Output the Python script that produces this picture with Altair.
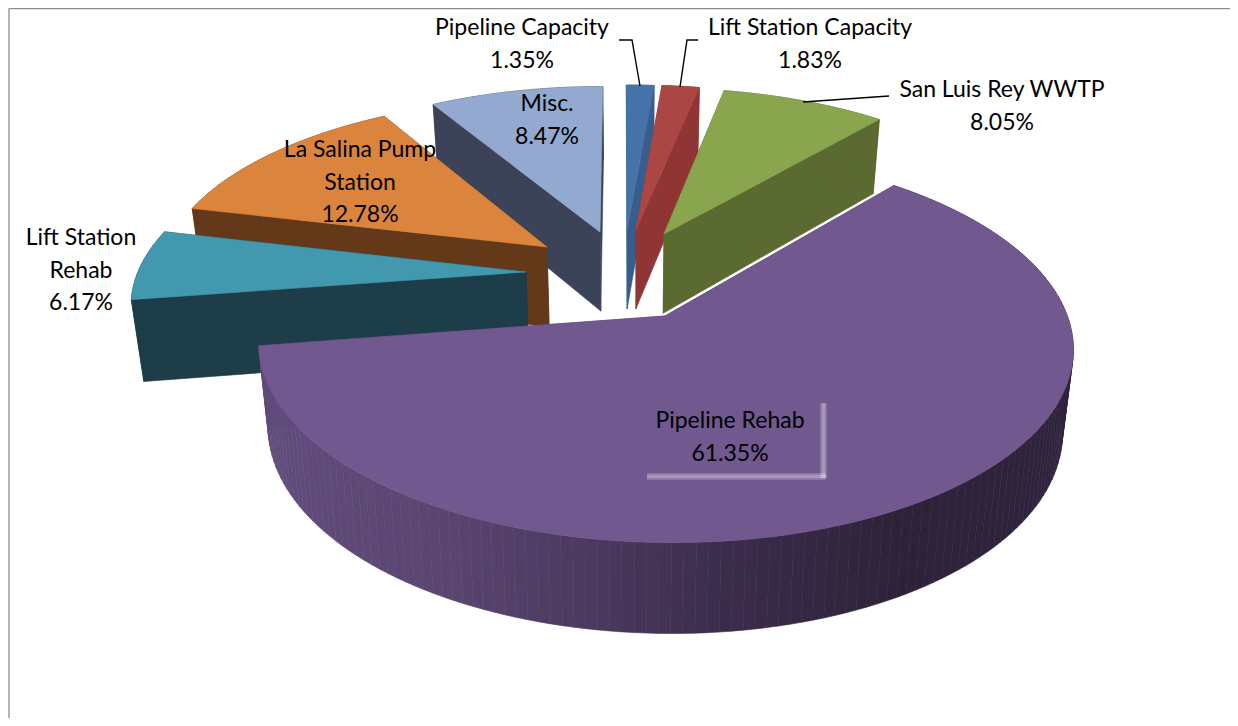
import math
import altair as alt

# ---- chart values
categories = ["Pipeline Capacity", "Lift Station Capacity", "San Luis Rey WWTP", "Pipeline Rehab",
              "Lift Station Rehab", "La Salina Pump Station", "Misc."]
shares = [1.35, 1.83, 8.05, 61.35, 6.17, 12.78, 8.47]
top_colors = ["#4572a7", "#aa4643", "#89a54e", "#71588f", "#4198af", "#db843d", "#93a9cf"]
wall_colors = ["#375d8c", "#8f3634", "#5b6a30", "#4a3a60", "#1d3d49", "#63391a", "#3c4358"]
# slice explosion, in units of the pie radius (right, towards viewer)
explode = [(0.0134, -0.2778), (0.0374, -0.2778), (0.1118, -0.2537), (0.1069, 0.2046),
           (-0.2474, -0.0334), (-0.1974, -0.1768), (-0.0587, -0.2658)]
draw_order = [6, 0, 1, 2, 5, 4, 3]
# side-wall shading of the big slice: screen x -> colour
shade_x = [270, 450, 600, 720, 900, 1080]
shade_rgb = [(0x62, 0x4c, 0x7c), (0x5a, 0x44, 0x70), (0x4a, 0x38, 0x5e), (0x3b, 0x2d, 0x4c), (0x2e, 0x22, 0x39), (0x2f, 0x24, 0x3e)]

label_lines = [["Pipeline Capacity"], ["Lift Station Capacity"], ["San Luis Rey WWTP"], ["Pipeline Rehab"],
               ["Lift Station", "Rehab"], ["La Salina Pump", "Station"], ["Misc."]]
label_anchor = [(522, 28), (810, 28), (1002, 90), (730, 421), (81, 238), (360, 150), (547, 104)]
line_gap = 32.5

# ---- perspective model of the disc
PAGE = 8
CX, CY, RAD, TILT, PERSP = 622, 278, 390, 180, 0.15


def project(x, y):
    s = 1 / (1 - PERSP * y)
    return CX + RAD * x * s - PAGE, CY + TILT * y * s - PAGE


def drop(p, y):
    h = 81 / (1 - 0.09 * y)
    return 632 - PAGE + (p[0] - (632 - PAGE)) * 0.975, p[1] + h


def disc_point(i, ang, r=1.0):
    a = math.radians(ang)
    return explode[i][0] + r * math.sin(a), explode[i][1] - r * math.cos(a)


def feature(ring, color):
    ring = [list(map(lambda v: round(v, 2), p)) for p in ring]
    ring.append(ring[0])
    return {"type": "Feature", "geometry": {"type": "Polygon", "coordinates": [ring]},
            "properties": {"c": color}}


def shade(x):
    x = x + PAGE
    if x <= shade_x[0]:
        c = shade_rgb[0]
    elif x >= shade_x[-1]:
        c = shade_rgb[-1]
    else:
        for j in range(len(shade_x) - 1):
            if shade_x[j] <= x <= shade_x[j + 1]:
                f = (x - shade_x[j]) / (shade_x[j + 1] - shade_x[j])
                c = tuple(round(a + (b - a) * f) for a, b in zip(shade_rgb[j], shade_rgb[j + 1]))
                break
    return "#%02x%02x%02x" % c


starts = []
acc = 0.0
for s in shares:
    starts.append(acc)
    acc += s * 3.6

features = []
for i in draw_order:
    a0, a1 = starts[i], starts[i] + shares[i] * 3.6
    steps = max(3, int((a1 - a0) / 1.5))
    angs = [a0 + (a1 - a0) * k / steps for k in range(steps + 1)]
    cx, cy = explode[i]
    apex = project(cx, cy)
    apex_b = drop(apex, cy)
    # the two radial walls
    for ang in (a0, a1):
        x, y = disc_point(i, ang)
        p = project(x, y)
        features.append(feature([apex, p, drop(p, y), apex_b], wall_colors[i]))
    # outer wall strips
    for k in range(steps):
        x0, y0 = disc_point(i, angs[k])
        x1, y1 = disc_point(i, angs[k + 1])
        p0, p1 = project(x0, y0), project(x1, y1)
        col = shade((p0[0] + p1[0]) / 2) if i == 3 else wall_colors[i]
        features.append(feature([p0, p1, drop(p1, y1), drop(p0, y0)], col))
    # top face
    rim = [project(*disc_point(i, a)) for a in angs]
    features.append(feature([apex] + rim, top_colors[i]))

pie = (
    alt.Chart(alt.InlineData(values=features))
    .mark_geoshape(strokeWidth=0.6)
    .encode(fill=alt.Fill("properties.c:N", scale=None), stroke=alt.Stroke("properties.c:N", scale=None))
    .project(type="identity", scale=1, translate=[0, 0])
)

# ---- text
rows = []
for i, name in enumerate(categories):
    lines = label_lines[i] + [f"{shares[i]:.2f}%"]
    for n, t in enumerate(lines):
        rows.append({"t": t, "px": label_anchor[i][0] - PAGE, "py": label_anchor[i][1] - PAGE + n * line_gap})

text = (
    alt.Chart(alt.Data(values=rows))
    .mark_text(font="Lato", fontSize=23, color="#000000", baseline="middle", align="center")
    .encode(x=alt.X("px:Q", scale=None), y=alt.Y("py:Q", scale=None), text="t:N")
)

# ---- leader lines, glow edge of the big label, frame
def pts(group, seq, **extra):
    return [dict(g=group, o=k, px=p[0] - PAGE, py=p[1] - PAGE, **extra) for k, p in enumerate(seq)]


leader_rows = (pts("a", [(619, 40), (632, 40), (640, 86)]) + pts("b", [(698, 40), (687, 40), (680, 87)])
               + pts("c", [(889, 96), (803, 102)]))
leaders = (
    alt.Chart(alt.Data(values=leader_rows)).mark_line(color="#000000", strokeWidth=1.4)
    .encode(x=alt.X("px:Q", scale=None), y=alt.Y("py:Q", scale=None), detail="g:N", order="o:Q")
)

glow_rows = pts("v", [(823.5, 403), (823.5, 478)]) + pts("h", [(647, 476.5), (826, 476.5)])
glow_wide = (
    alt.Chart(alt.Data(values=glow_rows)).mark_line(color="#ffffff", strokeWidth=7, opacity=0.18)
    .encode(x=alt.X("px:Q", scale=None), y=alt.Y("py:Q", scale=None), detail="g:N", order="o:Q")
)
glow_core = (
    alt.Chart(alt.Data(values=glow_rows)).mark_line(color="#ffffff", strokeWidth=3.5, opacity=0.25)
    .encode(x=alt.X("px:Q", scale=None), y=alt.Y("py:Q", scale=None), detail="g:N", order="o:Q")
)

frame_top = (
    alt.Chart(alt.Data(values=[dict(g="t", o=0, px=0, py=0.5), dict(g="t", o=1, px=1230, py=0.5)]))
    .mark_line(color="#8c8c8c", strokeWidth=1.5)
    .encode(x=alt.X("px:Q", scale=None), y=alt.Y("py:Q", scale=None), detail="g:N", order="o:Q")
)
frame_left = (
    alt.Chart(alt.Data(values=[dict(g="l", o=0, px=1, py=0), dict(g="l", o=1, px=1, py=718)]))
    .mark_line(color="#b4b4b4", strokeWidth=2)
    .encode(x=alt.X("px:Q", scale=None), y=alt.Y("py:Q", scale=None), detail="g:N", order="o:Q")
)

chart = (
    alt.layer(frame_top, frame_left, pie, glow_wide, glow_core, leaders, text)
    .properties(width=1222, height=710, padding=0, autosize=alt.AutoSizeParams(type="none"), background="#ffffff")
    .configure_view(stroke=None)
)

chart.save("out.html", embed_options={"renderer": "svg", "actions": False})
